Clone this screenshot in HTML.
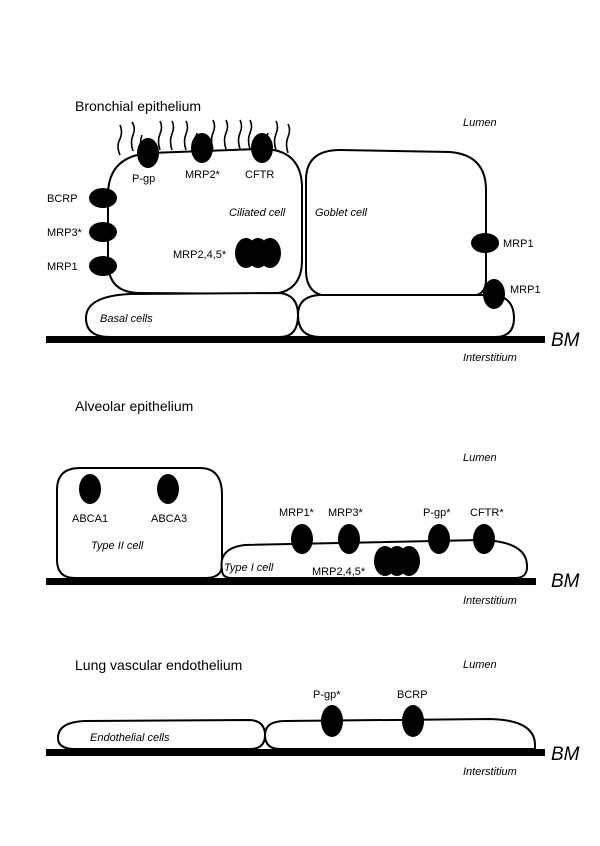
<!DOCTYPE html>
<html><head><meta charset="utf-8"><style>
html,body{margin:0;padding:0;background:#fff;}
svg{display:block;}
text{font-family:"Liberation Sans",sans-serif;fill:#000;}
.t{font-size:14px;}
.l{font-size:11px;}
.i{font-size:11px;font-style:italic;}
.bm{font-size:19px;font-style:italic;}
</style></head><body>
<svg width="600" height="846" viewBox="0 0 600 846" xmlns="http://www.w3.org/2000/svg">
<g fill="#fff" stroke="#000" stroke-width="2">
<g fill="none" stroke-width="1.6">
<path d="M120,155 q-4,-9 0,-16 q3,-7 0,-14"/>
<path d="M133,151 q-3,-9 0,-16 q3,-7 -1,-13"/>
<path d="M160,150 q-3,-9 0,-16 q3,-7 0,-13"/>
<path d="M172,150 q-3,-9 0,-16 q3,-7 0,-13"/>
<path d="M186,150 q-3,-9 0,-16 q3,-7 0,-13"/>
<path d="M213,149 q-3,-9 0,-16 q3,-7 0,-13"/>
<path d="M226,149 q-3,-9 0,-16 q3,-7 0,-13"/>
<path d="M240,149 q-3,-9 0,-16 q3,-7 0,-13"/>
<path d="M250,149 q-3,-9 0,-16 q3,-7 0,-13"/>
<path d="M276,150 q-3,-9 0,-16 q3,-7 0,-13"/>
<path d="M288,153 q-3,-9 0,-16 q3,-7 0,-13"/>
<path d="M142,151 q-3,-8 0,-16"/>
<path d="M197,149 q-3,-8 0,-16"/>
<path d="M268,149 q-3,-8 0,-16"/>
</g>
<path d="M108,195 Q108,156 150,153 L260,149 Q300,148 302,185 L302,260 Q302,293 270,294 L140,293 Q108,293 108,262 Z"/>
<path d="M306,180 Q306,150 340,150 L450,152 Q486,155 486,190 L486,280 Q486,296 470,296 L330,296 Q306,296 306,270 Z"/>
<path d="M86,318 Q86,296 130,294 L280,293 Q298,295 298,315 Q298,337 280,337 L110,337 Q86,337 86,318 Z"/>
<path d="M298,315 Q298,296 320,295 L495,295 Q514,298 514,318 Q514,337 495,337 L320,337 Q298,337 298,315 Z"/>
</g>
<rect x="46" y="336" width="499" height="7" fill="#000"/>
<g fill="#000">
<ellipse cx="148" cy="153" rx="11" ry="15"/>
<ellipse cx="202" cy="148" rx="11" ry="15"/>
<ellipse cx="262" cy="148" rx="11" ry="15"/>
<ellipse cx="103" cy="198" rx="14" ry="10"/>
<ellipse cx="103" cy="232" rx="14" ry="10"/>
<ellipse cx="103" cy="266" rx="14" ry="10"/>
<ellipse cx="246" cy="253" rx="11" ry="15"/>
<ellipse cx="258" cy="253" rx="11" ry="15"/>
<ellipse cx="270" cy="253" rx="11" ry="15"/>
<ellipse cx="485" cy="243" rx="14" ry="10"/>
<ellipse cx="494" cy="294" rx="11" ry="15"/>
</g>
<text x="75" y="111" class="t">Bronchial epithelium</text>
<text x="463" y="126" class="i">Lumen</text>
<text x="132" y="182" class="l">P-gp</text>
<text x="185" y="178" class="l">MRP2*</text>
<text x="245" y="178" class="l">CFTR</text>
<text x="47" y="202" class="l">BCRP</text>
<text x="47" y="236" class="l">MRP3*</text>
<text x="47" y="270" class="l">MRP1</text>
<text x="229" y="216" class="i">Ciliated cell</text>
<text x="315" y="216" class="i">Goblet cell</text>
<text x="173" y="258" class="l">MRP2,4,5*</text>
<text x="503" y="247" class="l">MRP1</text>
<text x="510" y="293" class="l">MRP1</text>
<text x="100" y="322" class="i">Basal cells</text>
<text x="551" y="346" class="bm">BM</text>
<text x="463" y="361" class="i">Interstitium</text>

<g fill="#fff" stroke="#000" stroke-width="2">
<path d="M57,490 Q57,468 80,468 L200,468 Q222,468 222,495 L222,565 Q222,578 205,578 L75,578 Q57,578 57,560 Z"/>
<path d="M222,570 Q218,548 245,545 L480,540 Q526,541 527,565 Q528,578 515,578 L232,578 Q222,578 222,570 Z"/>
</g>
<rect x="46" y="578" width="490" height="7" fill="#000"/>
<g fill="#000">
<ellipse cx="90" cy="489" rx="11" ry="15"/>
<ellipse cx="168" cy="489" rx="11" ry="15"/>
<ellipse cx="302" cy="539" rx="11" ry="15"/>
<ellipse cx="349" cy="539" rx="11" ry="15"/>
<ellipse cx="439" cy="539" rx="11" ry="15"/>
<ellipse cx="484" cy="539" rx="11" ry="15"/>
<ellipse cx="385" cy="561" rx="11" ry="15"/>
<ellipse cx="397" cy="561" rx="11" ry="15"/>
<ellipse cx="409" cy="561" rx="11" ry="15"/>
</g>
<text x="75" y="411" class="t">Alveolar epithelium</text>
<text x="463" y="461" class="i">Lumen</text>
<text x="72" y="522" class="l">ABCA1</text>
<text x="151" y="522" class="l">ABCA3</text>
<text x="91" y="549" class="i">Type II cell</text>
<text x="279" y="516" class="l">MRP1*</text>
<text x="328" y="516" class="l">MRP3*</text>
<text x="423" y="516" class="l">P-gp*</text>
<text x="470" y="516" class="l">CFTR*</text>
<text x="224" y="571" class="i">Type I cell</text>
<text x="312" y="575" class="l">MRP2,4,5*</text>
<text x="551" y="587" class="bm">BM</text>
<text x="463" y="604" class="i">Interstitium</text>

<g fill="#fff" stroke="#000" stroke-width="2">
<path d="M58,738 Q58,722 85,721 L250,720 Q265,721 265,735 Q265,749 250,749 L75,749 Q58,749 58,738 Z"/>
<path d="M265,735 Q265,721 285,721 L490,719 Q535,720 535,745 L535,749 L280,749 Q265,749 265,735 Z"/>
</g>
<rect x="46" y="749" width="499" height="7" fill="#000"/>
<g fill="#000">
<ellipse cx="332" cy="721" rx="11" ry="16"/>
<ellipse cx="413" cy="721" rx="11" ry="16"/>
</g>
<text x="75" y="670" class="t">Lung vascular endothelium</text>
<text x="463" y="668" class="i">Lumen</text>
<text x="313" y="698" class="l">P-gp*</text>
<text x="397" y="698" class="l">BCRP</text>
<text x="90" y="741" class="i">Endothelial cells</text>
<text x="551" y="760" class="bm">BM</text>
<text x="463" y="775" class="i">Interstitium</text>
</svg>
</body></html>
